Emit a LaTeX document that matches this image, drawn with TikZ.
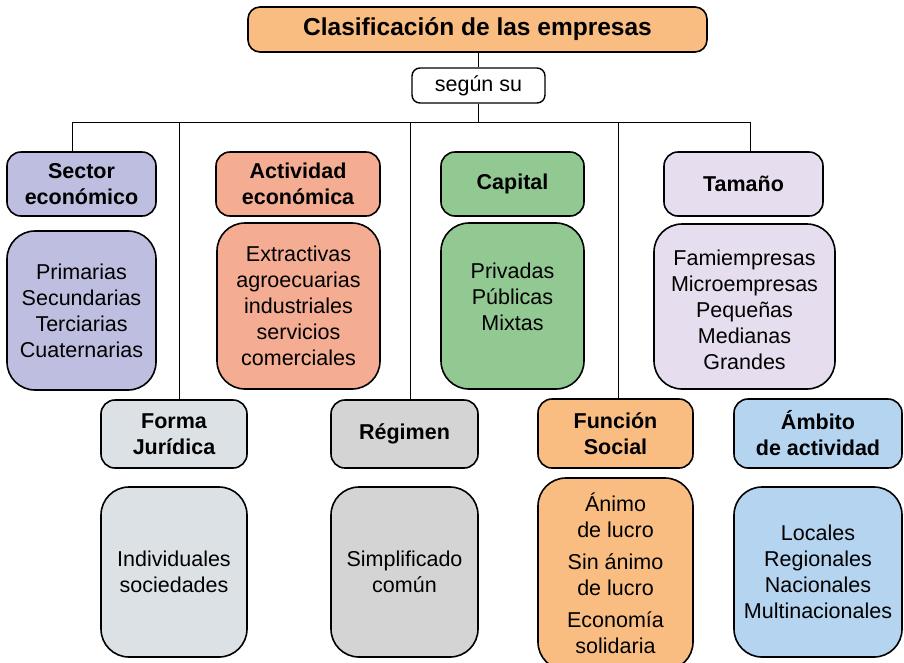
\documentclass[tikz,border=0pt]{standalone}
\usepackage{fontspec}
\setmainfont{Liberation Sans}
\definecolor{orangec}{HTML}{F9BD82}
\definecolor{sectorc}{HTML}{BEBEE0}
\definecolor{actc}{HTML}{F4AC93}
\definecolor{capc}{HTML}{92C992}
\definecolor{tamc}{HTML}{E6DDEE}
\definecolor{formc}{HTML}{DCE1E6}
\definecolor{regc}{HTML}{D4D4D4}
\definecolor{ambc}{HTML}{B4D4F0}
\tikzset{
  hdr/.style={draw, line width=1.6pt, rounded corners=14pt, inner sep=0pt, align=center,
    font=\fontsize{21.5}{26}\selectfont\bfseries},
  lst/.style={draw, line width=1.6pt, rounded corners=28pt, inner sep=0pt, align=center},
  txt/.style={align=center, inner sep=0pt, font=\fontsize{21.5}{26}\selectfont},
  conn/.style={line width=0.9pt},
}
\begin{document}
\begin{tikzpicture}[x=1pt,y=-1pt]
\useasboundingbox (0,0) rectangle (904,662);
% title
\node[hdr, fill=orangec, rounded corners=12pt, minimum width=459pt, minimum height=45pt,
  font=\fontsize{24.5}{28}\selectfont\bfseries] (title) at (477.5,29.5) {Clasificación de las empresas};
\node[draw, line width=1.4pt, rounded corners=8pt, fill=white, minimum width=133pt, minimum height=35pt,
  inner sep=0pt, font=\fontsize{21.5}{26}\selectfont] (segun) at (478.5,85.5) {según su};
% row 1 headers
\node[hdr, fill=sectorc, minimum width=149pt, minimum height=64pt] (sec) at (81.5,184) {Sector\\económico};
\node[hdr, fill=actc, minimum width=164pt, minimum height=64pt] (act) at (298,184) {Actividad\\económica};
\node[hdr, fill=capc, minimum width=143pt, minimum height=64pt] (cap) at (512.5,184) {Capital};
\node[hdr, fill=tamc, minimum width=159pt, minimum height=64pt] (tam) at (743.5,184) {Tamaño};
% row 1 lists
\node[lst, fill=sectorc, minimum width=149pt, minimum height=159pt] (secl) at (81.5,310.5) {};
\node[lst, fill=actc, minimum width=163pt, minimum height=166pt] (actl) at (298.5,306) {};
\node[lst, fill=capc, minimum width=143pt, minimum height=166pt] (capl) at (512.5,306) {};
\node[lst, fill=tamc, minimum width=181pt, minimum height=165pt] (taml) at (744.5,306.5) {};
\node[txt] (sect) at (secl.center) {Primarias\\Secundarias\\Terciarias\\Cuaternarias};
\node[txt] (actt) at (actl.center) {Extractivas\\agroecuarias\\industriales\\servicios\\comerciales};
\node[txt, yshift=9pt] (capt) at (capl.center) {Privadas\\Públicas\\Mixtas};
\node[txt, yshift=-3pt] (tamt) at (taml.center) {Famiempresas\\Microempresas\\Pequeñas\\Medianas\\Grandes};
% row 2 headers
\node[hdr, fill=formc, minimum width=146pt, minimum height=68pt] (form) at (174,434) {Forma\\Jurídica};
\node[hdr, fill=regc, minimum width=147pt, minimum height=68pt] (reg) at (404.5,434) {Régimen};
\node[hdr, fill=orangec, minimum width=155pt, minimum height=69pt] (fun) at (615.5,433.5) {Función\\Social};
\node[hdr, fill=ambc, minimum width=168pt, minimum height=69pt] (amb) at (818,433.5) {Ámbito\\de actividad};
% row 2 lists
\node[lst, fill=formc, minimum width=146pt, minimum height=170pt] (forml) at (174,572) {};
\node[lst, fill=regc, minimum width=147pt, minimum height=170pt] (regl) at (404.5,572) {};
\node[lst, fill=orangec, minimum width=155pt, minimum height=192pt] (funl) at (615.5,574) {};
\node[lst, fill=ambc, minimum width=168pt, minimum height=170pt] (ambl) at (818,572) {};
\node[txt] (formt) at (forml.center) {Individuales\\sociedades};
\node[txt] (regt) at (regl.center) {Simplificado\\común};
\node[txt, yshift=1pt] (funt) at (funl.center) {Ánimo\\de lucro\\[6pt]Sin ánimo\\de lucro\\[6pt]Economía\\solidaria};
\node[txt] (ambt) at (ambl.center) {Locales\\Regionales\\Nacionales\\Multinacionales};
% connectors
\coordinate (hm) at (478.5,122);
\coordinate (hl) at (72,122);
\coordinate (hr) at (750,122);
\coordinate (h2) at (179,122);
\coordinate (h3) at (410,122);
\coordinate (h4) at (618,122);
\draw[conn] (title.south -| segun.north) -- (segun.north);
\draw[conn] (segun.south) -- (hm);
\draw[conn] (hl) -- (hr);
\draw[conn] (hl) -- (hl |- sec.north);
\draw[conn] (hr) -- (hr |- tam.north);
\draw[conn] (h2) -- (h2 |- form.north);
\draw[conn] (h3) -- (h3 |- reg.north);
\draw[conn] (h4) -- (h4 |- fun.north);
\end{tikzpicture}
\end{document}
